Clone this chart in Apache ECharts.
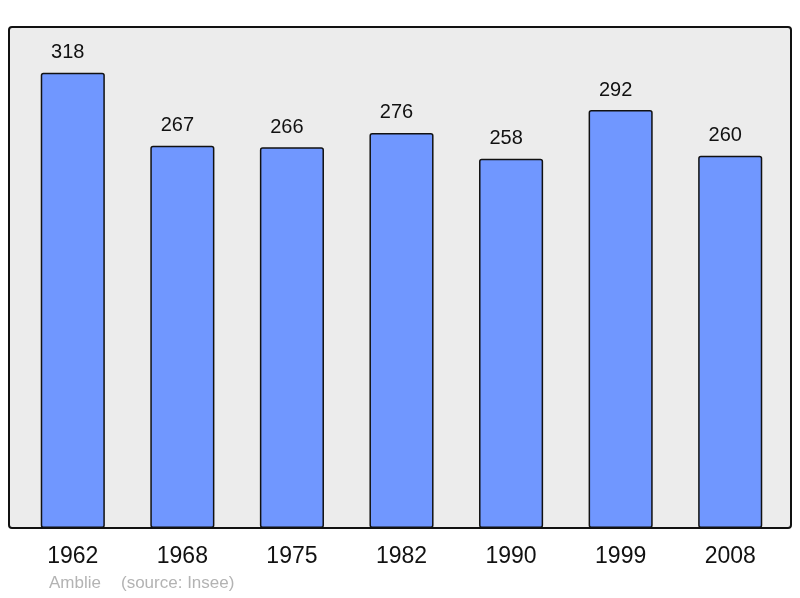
<!DOCTYPE html>
<html><head><meta charset="utf-8">
<script src="https://cdn.jsdelivr.net/npm/echarts@6/dist/echarts.min.js"></script>
<style>html,body{margin:0;padding:0;background:#fff}#c{width:800px;height:598px}</style>
</head><body><div id="c"></div>
<script>
const years = ['1962','1968','1975','1982','1990','1999','2008'];
const population = [318,267,266,276,258,292,260];
const commune = 'Amblie';
const sourceText = '(source: Insee)';

const chart = echarts.init(document.getElementById('c'), null, {renderer:'canvas'});
chart.setOption({
  animation:false,
  backgroundColor:'#ffffff',
  textStyle:{fontFamily:'Liberation Sans, Arial, sans-serif'},
  graphic:[
    {type:'rect', z:-10, shape:{x:9,y:27,width:782,height:501,r:3},
     style:{fill:'#ececec',stroke:'#111',lineWidth:2}},
    {type:'text', left:49, top:575, style:{text:commune, fill:'#b3b3b3', font:'17px Liberation Sans, Arial, sans-serif'}},
    {type:'text', left:121, top:575, style:{text:sourceText, fill:'#b3b3b3', font:'17px Liberation Sans, Arial, sans-serif'}}
  ],
  grid:{left:18,right:15,top:27,bottom:70},
  xAxis:{type:'category',data:years,
    axisLine:{show:false},axisTick:{show:false},
    axisLabel:{color:'#111',fontSize:23,margin:17,fontFamily:'Liberation Sans, Arial, sans-serif'}},
  yAxis:{type:'value',min:0,max:350,show:false,splitLine:{show:false}},
  series:[{type:'bar',data:population,barWidth:'58.5%',
    itemStyle:{color:'#7097ff',borderColor:'#111',borderWidth:1.5,borderRadius:2},
    label:{show:true,position:'top',distance:10,offset:[-5,0],color:'#111',fontSize:20,fontFamily:'Liberation Sans, Arial, sans-serif'}}]
});
</script></body></html>
